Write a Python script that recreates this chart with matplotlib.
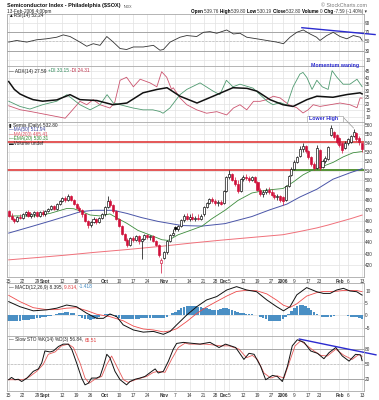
import numpy as np
import pandas as pd
import matplotlib
matplotlib.use('Agg')
import matplotlib.pyplot as plt
from matplotlib.ticker import NullLocator
from matplotlib.patches import Rectangle

plt.rcParams['font.family'] = ['Liberation Sans', 'DejaVu Sans']

W, H = 379, 400

# trading days shown on the chart
holidays = ['2005-09-05', '2005-11-24', '2005-12-26', '2006-01-02', '2006-01-16']
days = pd.bdate_range('2005-08-15', '2006-02-13')
days = days[~days.isin(pd.to_datetime(holidays))]

tick_dates = ['2005-08-15', '2005-08-22', '2005-08-29', '2005-09-01', '2005-09-12', '2005-09-19',
              '2005-09-26', '2005-10-03', '2005-10-10', '2005-10-17', '2005-10-24', '2005-11-01',
              '2005-11-07', '2005-11-14', '2005-11-21', '2005-11-28', '2005-12-01', '2005-12-05',
              '2005-12-12', '2005-12-19', '2005-12-27', '2006-01-03', '2006-01-09', '2006-01-17',
              '2006-01-23', '2006-02-01', '2006-02-06', '2006-02-13']
tick_labels = ['15', '22', '29', 'Sept', '12', '19', '26', 'Oct', '10', '17', '24', 'Nov', '7', '14',
               '21', '28', 'Dec', '5', '12', '19', '27', '2006', '9', '17', '23', 'Feb', '6', '13']
month_labels = ['Sept', 'Oct', 'Nov', 'Dec', '2006', 'Feb']

# daily OHLC ($SOX)
opens = [469, 465, 462, 460, 464, 463, 466, 468, 465, 466, 468, 465, 468, 466, 469,
         471, 474, 471, 476, 479, 482, 480, 484, 480, 476, 472, 470, 466, 460, 456,
         459, 462, 459, 463, 466, 473, 479, 475, 469, 462, 455, 448, 442, 438, 444,
         442, 446, 441, 443, 447, 445, 446, 441, 438, 422, 426, 431, 441, 447, 454,
         452, 455, 461, 465, 462, 464, 462, 463, 462, 466, 473, 477, 481, 479, 477,
         478, 477, 489, 503, 506, 500, 496, 489, 501, 503, 502, 500, 503, 498, 490,
         486, 488, 490, 488, 485, 483, 484, 483, 480, 494, 505, 512, 519, 525, 533,
         536, 531, 524, 517, 513, 532, 514, 520, 522, 549, 552, 549, 545, 540, 534,
         540, 541, 548, 551, 545, 539.76]
highs = [470, 467, 463, 465, 466, 467, 469, 470, 467, 469, 469, 469, 470, 470, 472,
         475, 475, 477, 480, 483, 484, 486, 485, 481, 477, 474, 471, 467, 461, 460,
         464, 463, 464, 467, 474, 484, 481, 476, 470, 463, 456, 449, 444, 445, 446,
         447, 447, 444, 448, 448, 447, 447, 442, 439, 426, 432, 442, 448, 452, 455,
         456, 462, 466, 467, 466, 467, 465, 466, 466, 474, 478, 482, 483, 481, 480,
         480, 490, 504, 511, 507, 503, 500, 502, 505, 506, 504, 504, 504, 499, 492,
         490, 492, 493, 491, 488, 486, 485, 484, 495, 505, 514, 521, 526, 536, 540,
         538, 532, 525, 519, 538, 533, 522, 525, 536, 560, 553, 550, 546, 541, 542,
         545, 549, 555, 552, 547, 539.80]
lows = [464, 461, 458, 459, 462, 462, 465, 464, 463, 464, 464, 464, 465, 465, 468,
        470, 470, 470, 475, 478, 478, 479, 479, 475, 471, 468, 464, 459, 453, 454,
        458, 457, 458, 462, 465, 472, 473, 467, 461, 454, 447, 441, 436, 437, 440,
        441, 439, 425, 442, 443, 442, 440, 437, 427, 413, 425, 430, 440, 446, 450,
        450, 454, 459, 461, 460, 461, 460, 461, 461, 465, 472, 476, 477, 475, 474,
        475, 476, 488, 501, 499, 494, 487, 488, 499, 500, 498, 499, 497, 489, 484,
        483, 486, 486, 484, 481, 480, 478, 475, 479, 493, 504, 511, 518, 524, 530,
        529, 522, 515, 511, 512, 511, 513, 518, 521, 547, 544, 539, 535, 529, 533,
        538, 540, 546, 542, 538, 530.19]
closes = [465, 462, 460, 464, 463, 466, 468, 465, 466, 468, 465, 468, 466, 469, 471,
          474, 471, 476, 479, 482, 480, 484, 480, 476, 472, 470, 466, 460, 456, 459,
          462, 459, 463, 466, 473, 479, 475, 469, 462, 455, 448, 442, 438, 444, 442,
          446, 441, 443, 447, 445, 446, 441, 438, 429, 424, 431, 441, 447, 449, 452,
          455, 461, 465, 462, 464, 462, 463, 462, 465, 473, 477, 481, 479, 477, 478,
          476, 489, 503, 506, 500, 496, 489, 501, 503, 502, 500, 503, 498, 490, 486,
          488, 490, 488, 485, 483, 484, 480, 479, 494, 504, 512, 519, 524, 533, 536,
          531, 524, 517, 513, 534, 513, 520, 523, 535, 557, 546, 541, 537, 532, 540,
          544, 548, 552, 544, 540.39, 532.80]

# moving averages (bar index, value)
ma50_x = [0, 8.6, 15, 20.6, 25.2, 30, 37, 41.8, 47, 52.8, 61.3, 68.4, 76.5, 86, 92.4,
          98.4, 103, 109, 114.7, 120.7, 125]
ma50_v = [448.5, 455, 460, 464.6, 468.5, 470, 470, 467, 463, 459.4, 455.5, 455, 457.3, 464,
          470.5, 476, 483, 490.8, 501, 507.6, 511.9]
ma200_x = [0, 10, 20, 30, 42, 54, 65, 75, 86, 97, 103, 109, 113, 117, 121, 125]
ma200_v = [424.5, 426.5, 428.6, 431, 433.6, 436.5, 439.5, 442, 444.5, 447, 450, 453.3, 456,
           459, 462, 465.4]
ema20_x = [0, 3, 8.7, 14.6, 20.6, 23, 25.2, 28.8, 32.3, 35.8, 39.4, 41.8, 45.7, 50.7, 54.2,
           56.4, 59.9, 64.8, 68.4, 71.9, 76.5, 81.1, 86, 91.4, 97, 100.6, 104.1, 107.7, 111.2,
           114.8, 118.3, 121.8, 125]
ema20_v = [464.5, 464.6, 464.5, 467, 471.8, 471.5, 469.4, 465.5, 464.6, 466.5, 461, 457.6, 451,
           446, 442.4, 441.8, 446.9, 451.5, 455, 462, 470, 479.6, 487, 490, 491.5, 498, 505.5,
           511, 514.5, 518.7, 524.5, 529, 530.3]
resist_levels = [540.5, 511]
support_level = 511
support_start = 100.6

# RSI(14)
rsi_x = [0, 2.8, 6.4, 9.9, 13.4, 17, 19.3, 21.7, 25.2, 27.6, 29.9, 32.3, 34.7, 37, 39.4,
         41.7, 44.1, 47.6, 51.2, 53.5, 54.7, 57.1, 60.6, 63, 66.5, 68.9, 71.2, 73.6, 77.1,
         79.5, 81.8, 84.2, 87.7, 91.3, 94.8, 97.2, 99.5, 101.9, 104.2, 106.6, 108.9, 110.1,
         112.5, 114.8, 117.2, 119.6, 121.9, 124.3, 125]
rsi_v = [48.5, 52, 48.5, 53.5, 55.6, 59, 64, 60.5, 48.5, 39.5, 45, 41.5, 60.5, 48.5, 34.6,
         32.5, 38, 38, 41.5, 31, 32.5, 48.5, 59, 62.6, 60.5, 69.6, 71, 67.5, 74.6, 66, 67.5,
         59, 55.6, 52, 48.5, 45, 59, 69.6, 74.6, 66, 59, 52, 62.6, 69.6, 60.5, 55.6, 62.6, 59,
         52.24]
rsi_trend_x = [103.7, 129.6]
rsi_trend_v = [79.5, 64.7]

# ADX(14), +DI, -DI
adx_x = [0, 2, 4, 6.5, 8.6, 12, 17, 21.7, 25.2, 31.2, 36.9, 41.8, 47.5, 52.5, 56, 60.6, 66.6,
         72.3, 79.3, 84.3, 87.8, 92.4, 97, 100.6, 105.5, 109, 114.7, 119.7, 124.3, 125]
adx_v = [37, 31, 27.5, 25, 23.2, 22, 23, 27, 23.2, 22.5, 19.3, 20.6, 28.4, 31, 32.3, 25.8,
         20.6, 25.8, 32.3, 31.8, 29.7, 23.2, 19.3, 18, 23.2, 25.8, 25, 27.1, 28.4, 27.59]
pdi_x = [0, 4, 7.5, 12, 17, 20.6, 25.2, 28.8, 32.3, 34.8, 37, 39.4, 44, 47.5, 51, 53.5, 54.6,
         57, 60.6, 63, 67.7, 72.3, 74.7, 77, 79.3, 81.8, 86.4, 88.9, 91.4, 93.5, 96, 98.4,
         100.6, 103, 104.1, 105.5, 107.3, 109, 110.9, 113, 114.4, 116.1, 118.3, 120.7, 123.2,
         125]
pdi_v = [22, 18, 16, 19.3, 22, 27, 19.3, 15.4, 19.3, 27, 20.6, 19.3, 16.8, 15.4, 15.4, 14.1,
         12.8, 16.8, 27, 31, 36, 29.7, 27, 38, 33, 35, 32, 27, 22, 19.3, 21, 19, 33, 42.7, 44,
         40, 31, 38, 33, 31, 45.3, 40.3, 35, 35, 38.8, 33.15]
mdi_x = [0, 4, 8, 14, 20, 22.6, 25.2, 27.6, 29.9, 32.3, 35.8, 37.5, 39.4, 41.7, 44.1, 46.5,
         50, 52.4, 54.1, 55.9, 57.6, 58.2, 60.6, 63, 66.5, 70, 73.6, 77.1, 79.5, 81.8, 84.2,
         86.6, 88.9, 91.3, 93.6, 96, 99.1, 101.9, 104.1, 105.9, 107.7, 110.1, 113.7, 117.2,
         120.7, 123.2, 124.3, 125]
mdi_v = [18.5, 15.5, 14, 11.5, 9, 15.4, 21.9, 19.3, 23.2, 19.3, 16.8, 21, 38, 40.3, 33, 38.8,
         36, 33, 44.5, 40.3, 31, 32.3, 24.5, 19.3, 15.4, 12.8, 14, 11.5, 16.8, 19.3, 15.4, 21.9,
         21.9, 23.2, 25.8, 24.5, 19.3, 17, 13, 15.4, 19.3, 18, 19.3, 20.6, 19.3, 17, 24.5, 24.31]

# MACD(12,26,9)
macd_x = [0, 4, 8.7, 13.4, 17, 20.5, 24, 27.6, 31.1, 33.5, 35.8, 38.2, 40.5, 44.1, 47.6, 51.2,
          54.7, 57.1, 59.4, 63, 66.5, 70, 73.6, 77.1, 80.6, 84.2, 87.7, 91.3, 94.8, 97.2, 99.5,
          101.9, 105.4, 108.9, 111.3, 113.7, 116, 118.4, 120.7, 123.1, 125]
macd_v = [5.7, 3.6, 1.9, 2.3, 3, 4.3, 3.6, 0.9, -1.2, -1.2, 0.6, -0.5, -3.9, -6, -6.9, -6.6,
          -7.8, -6.6, -3.9, 0.2, 3.6, 6.4, 7.8, 10.5, 11.9, 10.5, 9.8, 6.4, 3.6, 1.9, 3.6, 8.5,
          11.5, 9.8, 9.1, 9.1, 10.5, 11.2, 10.1, 9.8, 8.395]
signal_x = [0, 4, 8.7, 13.4, 17, 20.5, 24, 27.6, 31.1, 35.8, 40.5, 44.1, 47.6, 51.2, 54.7, 57.1,
            59.4, 63, 66.5, 70, 73.6, 77.1, 80.6, 84.2, 87.7, 91.3, 94.8, 97.2, 99.5, 101.9,
            105.4, 108.9, 111.3, 113.7, 116, 118.4, 120.7, 123.1, 125]
signal_v = [8.3, 5.7, 3.2, 2.4, 2.4, 3.0, 3.2, 2.0, 0.5, -0.5, -2.2, -4.4, -5.6, -6.0, -6.8,
            -6.4, -5.5, -2.5, 0.8, 3.5, 5.8, 8.0, 9.9, 10.4, 10.2, 8.9, 6.3, 4.2, 3.3, 4.8, 8.0,
            9.4, 9.9, 9.9, 10.0, 10.3, 10.3, 10.3, 9.814]
macd_hist = [-2.5, -2.5, -2.4, -2.3, -2.2, -2.0, -1.9, -1.7, -1.5, -1.3,
             -1.1, -0.9, -0.7, -0.5, -0.3, -0.1, 0.2,
             0.5, 0.8, 1.1, 1.3, 1.4, 1.2, 0.8,
             0.2, -0.4, -0.9, -1.3, -1.6, -1.7, -1.6, -1.2,
             -0.6, 0.0, 0.4, 0.6, 0.4, 0.0,
             -0.6, -1.0, -1.3, -1.5, -1.6, -1.6, -1.5, -1.4, -1.3, -1.2, -1.2, -1.1, -1.0, -1.0,
             -1.1, -1.2,
             -1.2, -1.0, -0.6, 0.0,
             0.8, 1.6, 2.4, 3.0, 3.4, 3.7,
             3.8, 3.9, 3.8, 3.6, 3.4, 3.2, 3.0, 2.8,
             2.4, 2.2, 2.4, 2.8, 3.0, 2.9, 2.6, 2.2, 1.8, 1.4, 1.0,
             0.8, 0.6, 0.5, 0.4, 0.2, 0.0, -0.5,
             -1.0, -1.6, -2.1, -2.4, -2.5, -2.4, -2.1, -1.6,
             -0.8, 0.4, 1.8,
             3.0, 3.8, 4.4, 4.3, 3.8, 3.0, 2.2,
             1.4, 0.6, 0.0,
             -0.5, -0.8, -0.8, -0.6, -0.2,
             0.2, 0.3, 0.2, 0.0, -0.3,
             -0.5, -0.6, -0.8, -1.1, -1.418]

# Slow stochastics %K(14) %D(3)
stok_x = [0, 1, 2.2, 3.4, 4.6, 6.4, 8.7, 10.5, 11.7, 12.8, 14.6, 15.8, 17.6, 19.3, 21.1, 22.3,
          24, 25.8, 27, 28.2, 29.3, 31.1, 32.3, 33.5, 34.7, 35.8, 37.6, 39.4, 41.7, 42.9, 44.7,
          46.4, 48.2, 50.6, 51.8, 52.9, 54.7, 56.5, 58.2, 59.4, 61.8, 64.1, 67.7, 69.7, 71.2,
          74.4, 76.7, 80.3, 83.2, 85, 86.8, 89.1, 90.9, 93.3, 95, 96.8, 98.6, 100.3, 102.1,
          104.5, 106.8, 109.2, 111.5, 113.3, 115.7, 118, 120.4, 122.7, 124.5, 125]
stok_v = [18, 22.7, 18, 19, 14.4, 21, 35, 40, 52.4, 76.5, 74.5, 76.5, 85.6, 90.4, 90.4, 80,
          52.4, 21.4, 7.6, 11, 21.4, 21.4, 24.7, 45.4, 69.7, 62.8, 35, 18, 7.6, 14.4, 19, 21.4,
          24.7, 35, 40, 31.7, 35, 55.8, 80, 91.8, 93.9, 92.5, 90.4, 92.5, 94, 83.5, 90.4, 83.5,
          59.3, 71.7, 69.7, 45.4, 18, 26.8, 24.7, 14.4, 45.4, 86.9, 99.3, 93.9, 76.5, 71.7,
          60.7, 73, 83.5, 66.2, 55.8, 69.7, 68.3, 56.84]
stod_x = [0, 1.6, 5.2, 7.5, 9.9, 12.2, 14, 16.4, 18.7, 21.1, 22.9, 25.2, 27, 28.5, 30.5, 32.9,
          34.7, 36.4, 38.2, 40.6, 42.3, 45.3, 48.8, 51.2, 52.9, 55.3, 57.6, 60, 62.4, 63.8,
          69.7, 75, 77.9, 81.5, 84.1, 86.2, 88, 90.3, 92.7, 95, 97.4, 99.2, 101.3, 103.3,
          105.6, 108, 110.4, 112.7, 115.7, 118.6, 121.5, 123.9, 125]
stod_v = [18, 18, 18, 24.7, 35, 49, 69.7, 74.5, 87, 90.4, 83.5, 52.4, 21.4, 11, 19, 24.7, 49,
          66.2, 45.4, 18, 12.7, 19, 24.7, 33, 35, 33, 59.3, 83.5, 92.5, 90.4, 90.4, 86.9, 86.9,
          80, 62.8, 67.5, 59.3, 31.7, 21.4, 26, 21.4, 52.4, 86.9, 97.2, 86.9, 76.5, 67.5, 66.2,
          80, 67.5, 59.3, 69.7, 65.51]
sto_trend_x = [102.8, 129.9]
sto_trend_v = [100.7, 68.6]

RED = '#d0103a'
BLUE = '#2b2bd0'
tick_pos = [days.get_loc(pd.Timestamp(d)) for d in tick_dates]
n = len(days)

fig = plt.figure(figsize=(W / 100, H / 100), dpi=100)
fig.patch.set_facecolor('white')
renderer = fig.canvas.get_renderer()


def panel(top, bottom):
    return fig.add_axes([7 / W, 1 - bottom / H, 356.5 / W, (bottom - top) / H])


def style(ax, ylim, yticks, ylabels=None):
    ax.set_xlim(-0.6, n - 0.5)
    ax.set_ylim(ylim)
    ax.set_xticks(tick_pos)
    ax.set_yticks(yticks)
    if ylabels is not None:
        ax.set_yticklabels(ylabels)
    ax.yaxis.set_minor_locator(NullLocator())
    ax.grid(True, color='#e2e2e2', lw=0.5)
    ax.set_axisbelow(True)
    for s in ax.spines.values():
        s.set_color('#a8a8a8')
        s.set_linewidth(0.6)
    ax.tick_params(length=0, labelsize=3.4, pad=1.2, labelcolor='#333333')
    ax.tick_params(axis='y', left=False, labelleft=False, right=False, labelright=True)
    ax.tick_params(axis='x', labelbottom=False)


def date_labels(ax):
    ax.set_xticklabels(tick_labels)
    ax.tick_params(axis='x', labelbottom=True, pad=1.5)
    for t in ax.get_xticklabels():
        if t.get_text() in month_labels:
            t.set_fontweight('bold')


def text_width(s, size, wt='normal'):
    # width in pixels, trailing spaces included
    t = fig.text(0, 0, '|' + s + '|', fontsize=size, fontweight=wt)
    b = fig.text(0, 0, '||', fontsize=size, fontweight=wt)
    w = t.get_window_extent(renderer).width - b.get_window_extent(renderer).width
    t.remove()
    b.remove()
    return w


def runs(x, y, parts, size=3.4, ha='left'):
    total = sum(text_width(s, size, wt) for s, col, wt in parts)
    cx = x - total if ha == 'right' else x
    for s, col, wt in parts:
        fig.text(cx / W, 1 - y / H, s, color=col, fontsize=size, fontweight=wt,
                 va='center', ha='left')
        cx += text_width(s, size, wt)
    return cx


# ---- RSI
ax_rsi = panel(14, 66)
style(ax_rsi, (-3, 109), [10, 30, 50, 70, 90])
for lv in (30, 70):
    ax_rsi.axhline(lv, color='#9a9a9a', lw=0.6)
ax_rsi.axhline(50, color='#bbbbbb', lw=0.5, ls=(0, (3, 2)))
ax_rsi.plot(rsi_x, rsi_v, color='#333333', lw=0.6)
ax_rsi.plot(rsi_trend_x, rsi_trend_v, color=BLUE, lw=1.0, clip_on=False)

# ---- ADX
ax_adx = panel(66, 122)
style(ax_adx, (6.1, 48.9), [10, 15, 20, 25, 30, 35, 40, 45])
ax_adx.plot(mdi_x, mdi_v, color='#cc5570', lw=0.6)
ax_adx.plot(pdi_x, pdi_v, color='#4f9a70', lw=0.6)
ax_adx.plot(adx_x, adx_v, color='#111111', lw=1.1)

# ---- price
ax_p = panel(122, 277)
ax_p.set_yscale('log')
price_ticks = list(range(420, 561, 10))
style(ax_p, (409.8, 563.5), price_ticks, [str(v) for v in price_ticks])
ax_p.yaxis.set_minor_formatter(plt.NullFormatter())
for lv in resist_levels:
    ax_p.axhline(lv, color='#dd2a2a', lw=1.1, zorder=2)
ax_p.plot([support_start, n - 0.5], [support_level, support_level], color='#2fa52f', lw=1.1,
          zorder=2)
ax_p.plot(ma200_x, ma200_v, color='#f0707a', lw=0.7, zorder=3)
ax_p.plot(ma50_x, ma50_v, color='#4a55a8', lw=0.7, zorder=3)
ax_p.plot(ema20_x, ema20_v, color='#3c8c3c', lw=0.6, zorder=3)
for i in range(n):
    o, hi, lo, c = opens[i], highs[i], lows[i], closes[i]
    prev = closes[i - 1] if i else o
    col = RED if c < prev else 'black'
    ax_p.vlines(i, lo, hi, color=col, lw=0.5, zorder=4)
    face = 'white' if c >= o else col
    ax_p.bar(i, max(abs(c - o), 0.4), bottom=min(o, c), width=0.72, facecolor=face,
             edgecolor=col, lw=0.45, zorder=5)
date_labels(ax_p)

# ---- MACD
ax_m = panel(283, 336)
style(ax_m, (-8.5, 13.4), [-5, 0, 5, 10])
ax_m.bar(range(n), macd_hist, width=0.9, color='#4a8fc4', lw=0, zorder=2)
ax_m.plot(signal_x, signal_v, color='#ee4b4b', lw=0.6, zorder=3)
ax_m.plot(macd_x, macd_v, color='#111111', lw=0.7, zorder=4)

# ---- Slow STO
ax_s = panel(336, 391)
style(ax_s, (-4.9, 106.9), [20, 50, 80])
for lv in (20, 80):
    ax_s.axhline(lv, color='#9a9a9a', lw=0.6)
ax_s.axhline(50, color='#bbbbbb', lw=0.5, ls=(0, (3, 2)))
ax_s.plot(stod_x, stod_v, color='#e65a5a', lw=0.6)
ax_s.plot(stok_x, stok_v, color='#111111', lw=0.7)
ax_s.plot(sto_trend_x, sto_trend_v, color=BLUE, lw=1.0, clip_on=False)
date_labels(ax_s)

# ---- header
title = 'Semiconductor Index - Philadelphia ($SOX)'
title_size = 4.4 * 114 / text_width(title, 4.4, 'bold')
title_end = runs(7, 6, [(title, '#111111', 'bold')], size=title_size)
fig.text((title_end + 3) / W, 1 - 6.5 / H, 'INDX', fontsize=2.6, va='center', color='#555555')
fig.text(7 / W, 1 - 11.3 / H, '13-Feb-2006 4:00pm', fontsize=3.4, va='center', color='#222222')
fig.text(367 / W, 1 - 5.5 / H, '\u00a9 StockCharts.com', fontsize=3.8, va='center', ha='right',
         color='#777777')
runs(367, 11.8, [('Open ', 'black', 'bold'), ('539.76 ', '#333333', 'normal'),
                 ('High ', 'black', 'bold'), ('539.80 ', '#333333', 'normal'),
                 ('Low ', 'black', 'bold'), ('530.19 ', '#333333', 'normal'),
                 ('Close ', 'black', 'bold'), ('532.80 ', '#333333', 'normal'),
                 ('Volume ', 'black', 'bold'), ('0 ', '#333333', 'normal'),
                 ('Chg ', 'black', 'bold'), ('-7.59 (-1.40%) \u25be', '#333333', 'normal')],
     size=3.3, ha='right')

# ---- panel legends
runs(9, 16, [('\u25b2RSI(14) 52.24', '#222222', 'normal')])
runs(9, 71, [('\u2014 ADX(14) 27.59 ', '#222222', 'normal'), ('+DI 33.15 ', '#2f8a5a', 'normal'),
             ('-DI 24.31', '#c0304a', 'normal')])
runs(9, 125.3, [('\u25ae Semis (Daily) 532.80', '#222222', 'normal')])
runs(9, 129.8, [('\u2014MA(50) 511.94', '#3a44a0', 'normal')])
runs(9, 134.3, [('\u2014MA(200) 465.41', '#e04a5a', 'normal')])
runs(9, 138.8, [('\u2014EMA(20) 530.31', '#2f8a2f', 'normal')])
runs(9, 143.3, [('\u25acVolume undef', '#222222', 'normal')])
runs(9, 287, [('\u2014 MACD(12,26,9) 8.395, ', '#222222', 'normal'),
              ('9.814, ', '#e03a3a', 'normal'), ('-1.418', '#3a86c0', 'normal')])
runs(9, 340, [('\u2014 Slow STO %K(14) %D(3) 56.84, ', '#222222', 'normal'),
              ('65.51', '#e03a3a', 'normal')])

# ---- annotations
fig.text(335 / W, 1 - 66 / H, 'Momentum waning', fontsize=3.8, fontweight='bold', color=BLUE,
         ha='center', va='center')
fig.add_artist(Rectangle((307 / W, 1 - 122 / H), 36 / W, 6.5 / H, transform=fig.transFigure,
                         facecolor='white', edgecolor='#aaaaaa', lw=0.5, zorder=10))
fig.text(309 / W, 1 - 118.8 / H, 'Lower High', fontsize=3.8, fontweight='bold', color=BLUE,
         va='center', zorder=11)
ax_p.annotate('', xy=(122, 556.5), xytext=(343 / W, 1 - 117 / H), textcoords='figure fraction',
              arrowprops=dict(arrowstyle='-', color='#999999', lw=0.5, shrinkA=0, shrinkB=0),
              annotation_clip=False)

fig.savefig('out.png', dpi=100, facecolor='white')
